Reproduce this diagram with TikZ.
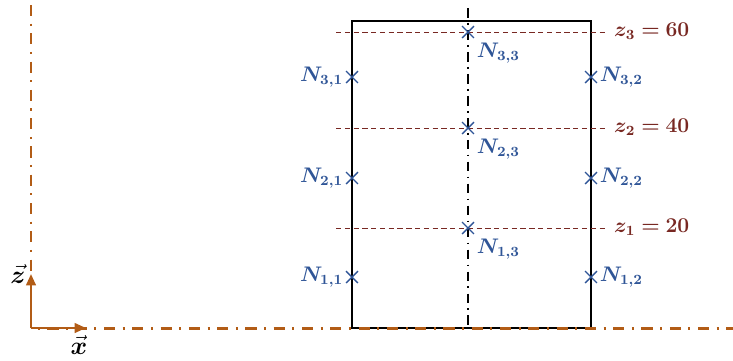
\documentclass[tikz,border=0pt]{standalone}
\usepackage{amsmath,amssymb,bm}
\usepackage{xcolor}
\usetikzlibrary{arrows.meta,positioning,shapes.misc}

\definecolor{axisbrown}{RGB}{178,92,22}
\definecolor{nodeblue}{RGB}{47,85,151}
\definecolor{levelred}{RGB}{120,40,34}

\tikzset{
    axisline/.style={axisbrown, line width=1.7pt, dash pattern=on 6.3pt off 4.3pt on 1.2pt off 4.3pt},
    meshnode/.style={cross out, draw=nodeblue, thick, minimum size=6pt, inner sep=0pt},
    nlabel/.style={nodeblue, font=\large, inner sep=1.5pt},
    levelline/.style={levelred, thin, dash pattern=on 3pt off 2pt},
    zlabel/.style={levelred, font=\large, anchor=west}
}

\begin{document}
\begin{tikzpicture}[x=0.02cm, y=-0.02cm]
    \useasboundingbox (0,0) rectangle (733,360);

    % Section outline and symmetry axis
    \draw[line width=1.4pt] (352,21) rectangle (591,328);
    \draw[line width=1.1pt, dash pattern=on 5.5pt off 3pt on 1pt off 3pt] (468,8) -- (468,328);

    % Level lines z = 20, 40, 60
    \draw[levelline] (336,32) -- (605,32);
    \draw[levelline] (336,128) -- (605,128);
    \draw[levelline] (336,228) -- (605,228);
    \node[zlabel] (z3) at (608,31) {$\bm{z_3 = 60}$};
    \node[zlabel] (z2) at (608,127) {$\bm{z_2 = 40}$};
    \node[zlabel] (z1) at (608,227) {$\bm{z_1 = 20}$};

    % Global axes
    \draw[axisline] (31,5) -- (31,328) -- (733,328);
    \coordinate (o) at (31,328);
    \coordinate (ztip) at (31,274);
    \coordinate (xtip) at (86,328);
    \draw[axisbrown, line width=1.3pt, -{Triangle[length=6.5pt,width=5.5pt]}] (o) -- (ztip);
    \draw[axisbrown, line width=1.3pt, -{Triangle[length=6.5pt,width=5.5pt]}] (o) -- (xtip);
    \node[font=\Large] (zvec) at (18,274) {$\vec{\bm z}$};
    \node[font=\Large] (xvec) at (79,345) {$\vec{\bm x}$};

    % Left face nodes
    \node[meshnode] (n31) at (352,77) {};
    \node[meshnode] (n21) at (352,178) {};
    \node[meshnode] (n11) at (352,277) {};
    \node[nlabel, left=0pt of n31] {$\bm{N_{3,1}}$};
    \node[nlabel, left=0pt of n21] {$\bm{N_{2,1}}$};
    \node[nlabel, left=0pt of n11] {$\bm{N_{1,1}}$};

    % Right face nodes
    \node[meshnode] (n32) at (591,77) {};
    \node[meshnode] (n22) at (591,178) {};
    \node[meshnode] (n12) at (591,277) {};
    \node[nlabel, right=0pt of n32] {$\bm{N_{3,2}}$};
    \node[nlabel, right=0pt of n22] {$\bm{N_{2,2}}$};
    \node[nlabel, right=0pt of n12] {$\bm{N_{1,2}}$};

    % Axis nodes
    \node[meshnode] (n33) at (468,32) {};
    \node[meshnode] (n23) at (468,128) {};
    \node[meshnode] (n13) at (468,228) {};
    \node[nlabel, below right=1pt and 0pt of n33] {$\bm{N_{3,3}}$};
    \node[nlabel, below right=1pt and 0pt of n23] {$\bm{N_{2,3}}$};
    \node[nlabel, below right=1pt and 0pt of n13] {$\bm{N_{1,3}}$};
\end{tikzpicture}
\end{document}
